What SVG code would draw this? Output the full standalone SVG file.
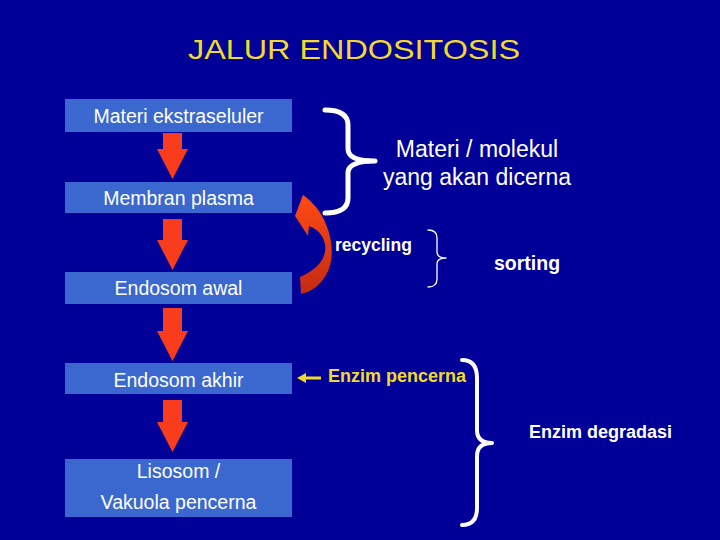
<svg xmlns="http://www.w3.org/2000/svg" width="720" height="540" viewBox="0 0 720 540">
<defs>
<style>
.box{fill:#3A68CF}
.bt{font-family:"Liberation Sans",Arial,sans-serif;font-size:19.5px;fill:#FFFFFF;text-anchor:middle}
.arr{fill:#F83C1C}
.brace{fill:none;stroke:#FFFFFF;stroke-linecap:round;stroke-linejoin:round}
.lbl{font-family:"Liberation Sans",Arial,sans-serif;fill:#FFFFFF}
.bold{font-weight:bold}
</style>
<linearGradient id="recg" x1="0" y1="0" x2="0" y2="1">
<stop offset="0" stop-color="#FF4A14"/>
<stop offset="1" stop-color="#C42A12"/>
</linearGradient>
</defs>
<rect x="0" y="0" width="720" height="540" fill="#000099"/>
<text x="188" y="59" font-family="'Liberation Sans',Arial,sans-serif" font-size="28" fill="#F2DA2A" textLength="332" lengthAdjust="spacingAndGlyphs">JALUR ENDOSITOSIS</text>

<g id="n1"><rect class="box" x="65" y="99" width="227" height="33"/><text class="bt" x="178.5" y="123">Materi ekstraseluler</text></g>
<g id="n2"><rect class="box" x="65" y="182" width="227" height="31"/><text class="bt" x="178.5" y="205">Membran plasma</text></g>
<g id="n3"><rect class="box" x="65" y="272" width="227" height="32"/><text class="bt" x="178.5" y="295">Endosom awal</text></g>
<g id="n4"><rect class="box" x="65" y="363" width="227" height="31"/><text class="bt" x="178.5" y="387">Endosom akhir</text></g>
<g id="n5"><rect class="box" x="65" y="459" width="227" height="58"/><text class="bt" x="178.5" y="478">Lisosom /</text><text class="bt" x="178.5" y="509">Vakuola pencerna</text></g>

<g id="connectors">
<polygon class="arr" points="163,133 182,133 182,149 188,149 172.5,179 157,149 163,149"/>
<polygon class="arr" points="163,219 182,219 182,240 188,240 172.5,270 157,240 163,240"/>
<polygon class="arr" points="163,308 182,308 182,331 188,331 172.5,361 157,331 163,331"/>
<polygon class="arr" points="163,400 182,400 182,422 188,422 172.5,452 157,422 163,422"/>
<path d="M303,195 C310,200 318,208 322,216 C332,234 336,258 326,275 C319,287 310,292 301,294 L300,277 C310,272 322,266 325,252 C327,240 320,230 309,226 L308,236 L295,216 Z" fill="url(#recg)"/>
<g id="yarrow"><line x1="305" y1="378" x2="321" y2="378" stroke="#F2DA2A" stroke-width="3"/><polygon points="297,378 306,373 306,383" fill="#F2DA2A"/></g>
</g>

<g id="brace1"><path class="brace" stroke-width="5" d="M325,110 Q348,110 348,125 L348,149 Q348,161 375,161 Q348,161 348,173 L348,198 Q348,213 325,213"/></g>
<g id="brace2"><path class="brace" stroke-width="1.3" d="M428,230 Q437,230 437,238 L437,252 Q437,258 446,258 Q437,258 437,264 L437,279 Q437,287 428,287"/></g>
<g id="brace3"><path class="brace" stroke-width="4" d="M462,360 Q477,360 477,378 L477,430 Q477,443 492,443 Q477,443 477,456 L477,508 Q477,525 462,525"/></g>

<g id="labels">
<text class="lbl" x="477" y="157" font-size="23" text-anchor="middle">Materi / molekul</text>
<text class="lbl" x="477" y="185" font-size="23" text-anchor="middle">yang akan dicerna</text>
<text class="lbl bold" x="335" y="251" font-size="17.5">recycling</text>
<text class="lbl bold" x="494" y="270" font-size="19.5">sorting</text>
<text class="lbl bold" x="328" y="382" font-size="18" style="fill:#F2DA2A">Enzim pencerna</text>
<text class="lbl bold" x="529" y="438" font-size="18">Enzim degradasi</text>
</g>
</svg>
